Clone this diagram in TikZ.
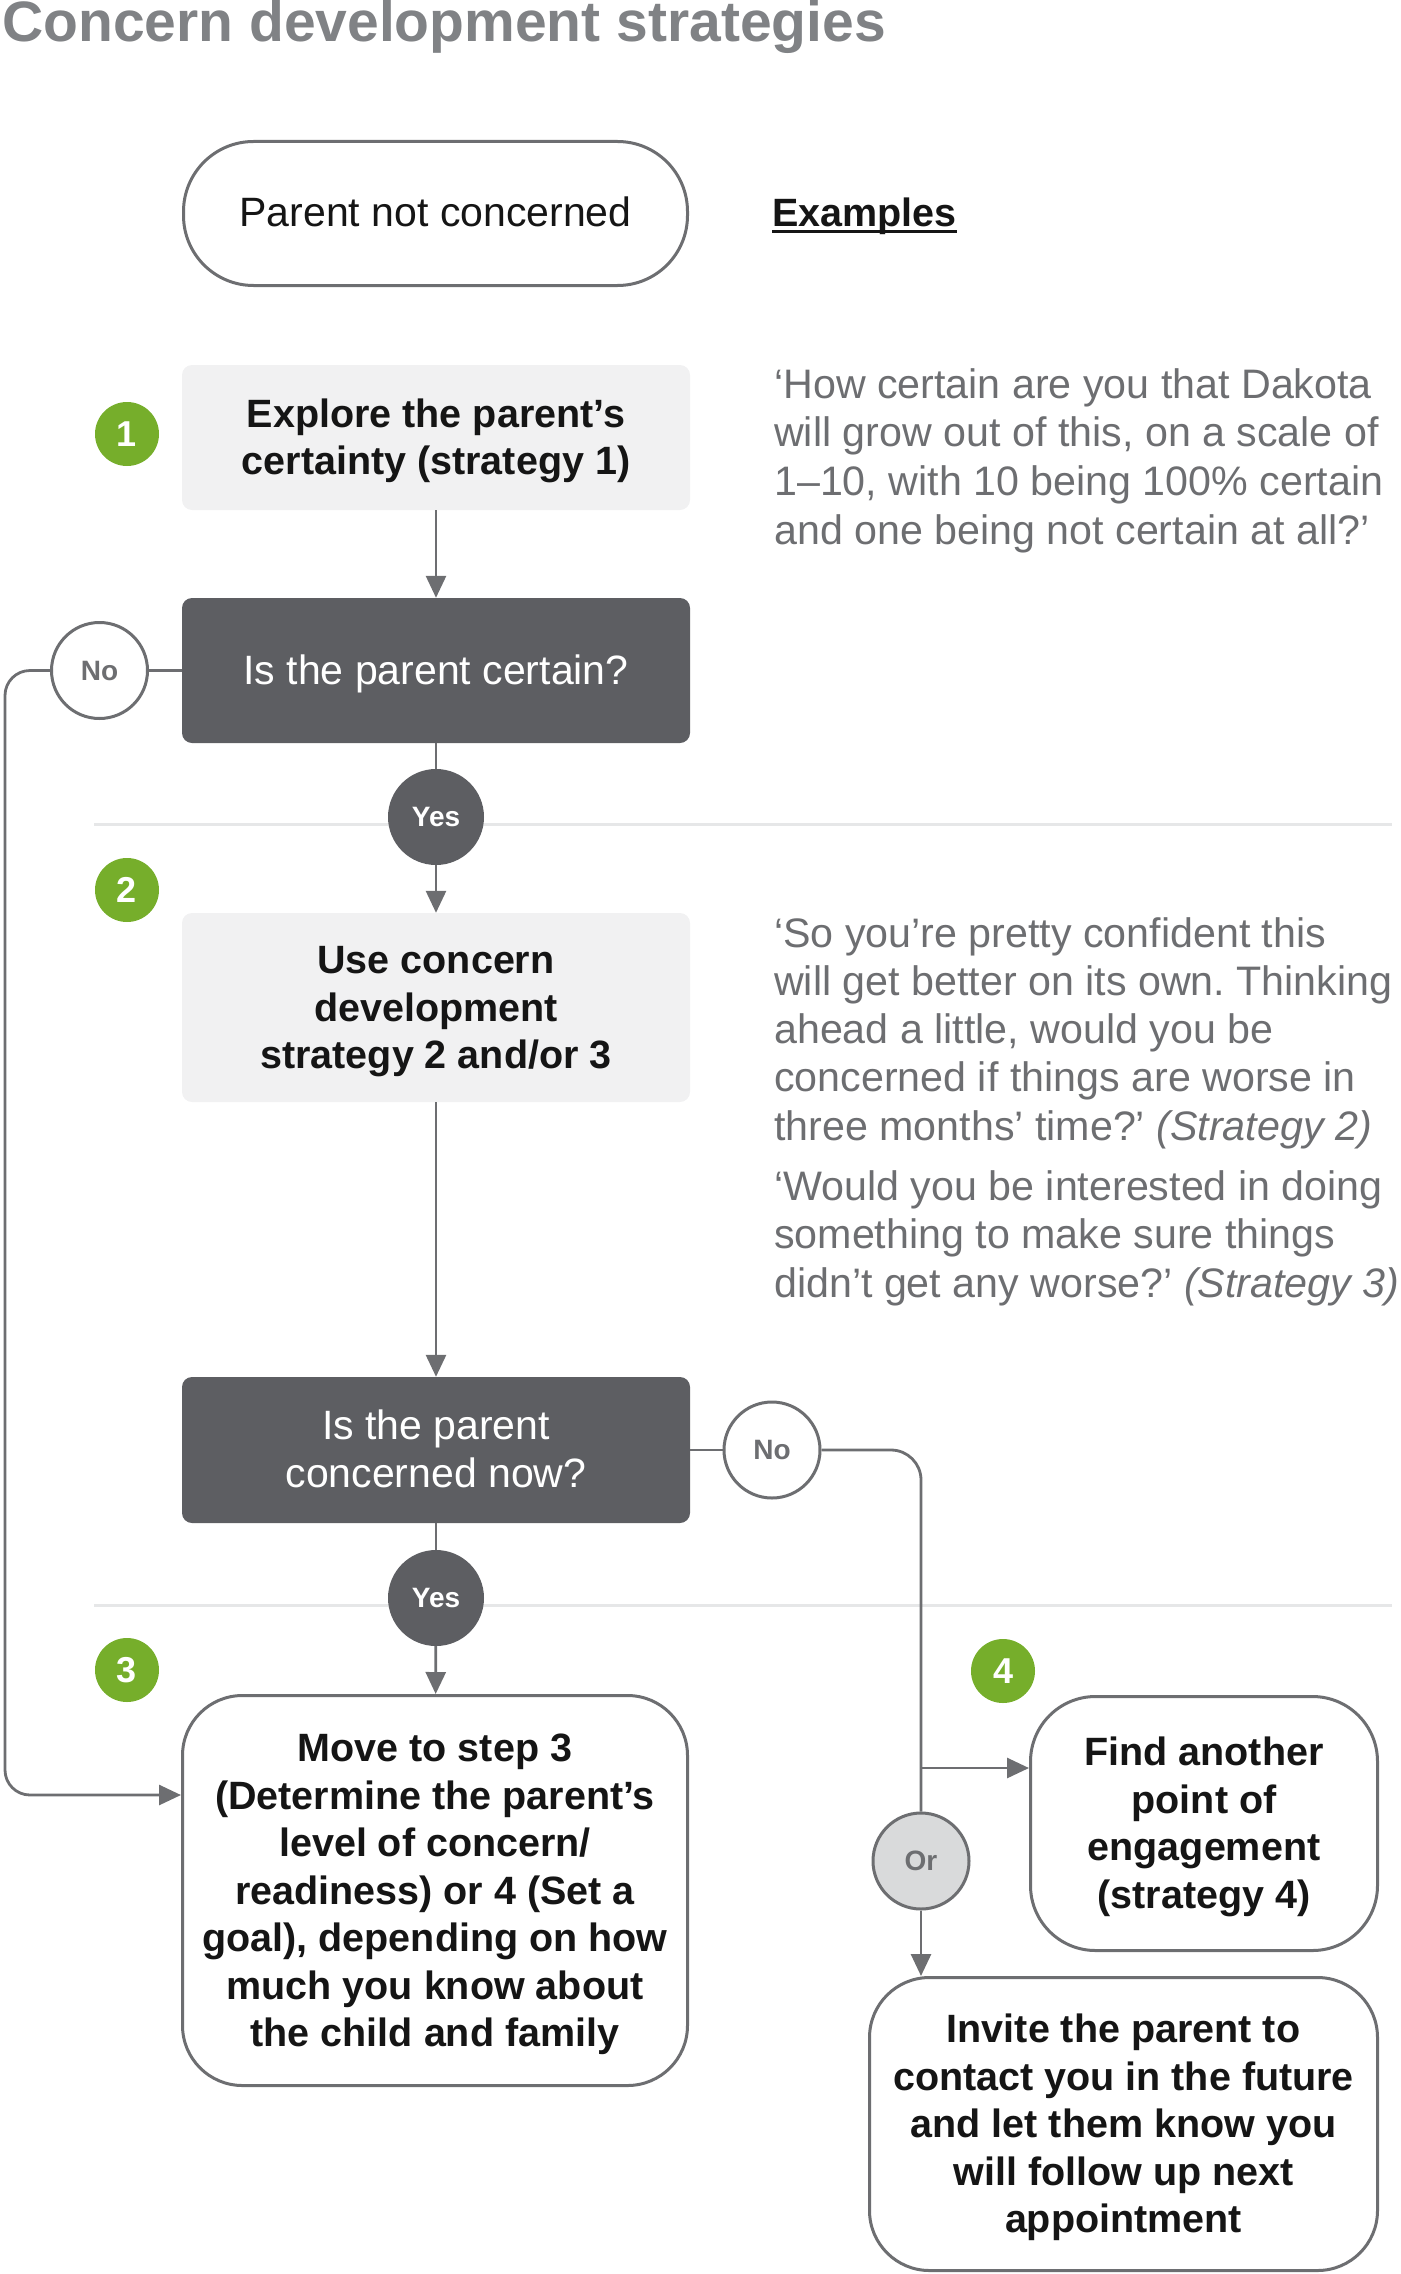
\documentclass[tikz,border=0pt]{standalone}
\usepackage{fontspec}
\setmainfont{Liberation Sans}
\usetikzlibrary{arrows.meta}
\definecolor{lin}{HTML}{6D6E71}
\definecolor{darkfill}{HTML}{5D5E62}
\definecolor{lightfill}{HTML}{F1F1F2}
\definecolor{sepcol}{HTML}{E6E7E8}
\definecolor{grn}{HTML}{76AE2B}
\definecolor{orfill}{HTML}{D9DADB}
\definecolor{titlegrey}{HTML}{808285}
\definecolor{ink}{HTML}{151515}
\newcommand{\myreg}{\fontsize{41}{48.5}\selectfont}
\newcommand{\myexf}{\fontsize{41.2}{48.5}\selectfont}
\newcommand{\mybold}{\fontsize{39.5}{47.5}\selectfont\bfseries}
\newcommand{\mytst}{\rule{0pt}{38pt}}
\newcommand{\mybst}{\rule[-11pt]{0pt}{11pt}}
\frenchspacing
\begin{document}
\begin{tikzpicture}[x=1pt,y=-1pt,
  conn/.style={draw=lin, line width=2.8pt},
  arr/.style={conn, -{Triangle[length=22pt,width=20pt]}},
  sepline/.style={draw=sepcol, line width=3pt},
  lightbox/.style={fill=lightfill, rounded corners=10pt, align=center, font=\mybold, text=ink, inner sep=0pt},
  darkbox/.style={fill=darkfill, rounded corners=10pt, align=center, font=\myreg, text=white, inner sep=0pt},
  whitebox/.style={draw=lin, line width=3pt, fill=white, rounded corners=60pt, align=center, font=\mybold, text=ink, inner sep=0pt},
  num/.style={circle, fill=grn, minimum size=64pt, inner sep=0pt, text=white, font=\fontsize{36}{36}\selectfont\bfseries},
  yesc/.style={circle, fill=darkfill, minimum size=96pt, inner sep=0pt, text=white, font=\fontsize{28}{28}\selectfont\bfseries},
  noc/.style={circle, draw=lin, line width=3pt, fill=white, minimum size=96pt, inner sep=0pt, text=lin, font=\fontsize{28}{28}\selectfont\bfseries},
  ex/.style={anchor=base west, inner sep=0pt, text=lin, font=\myexf},
]
\useasboundingbox (0,0) rectangle (1400,2274);

% separators
\coordinate (s1a) at (94,824); \coordinate (s1b) at (1392,824);
\coordinate (s2a) at (94,1605); \coordinate (s2b) at (1392,1605);
\draw[sepline] (s1a) -- (s1b);
\draw[sepline] (s2a) -- (s2b);

% title and heading
\node[anchor=base west, inner sep=0pt, text=titlegrey, font=\fontsize{57}{60}\selectfont\bfseries] (title) at (2,42) {Concern development strategies};
\node[anchor=base west, inner sep=0pt, text=ink, font=\mybold] (exhead) at (772,227) {Examples};
\draw[ink, line width=2.5pt] ([yshift=-4.5pt]exhead.base west) -- ([yshift=-4.5pt]exhead.base east);

% nodes
\node[whitebox, rounded corners=70pt, font=\myreg, minimum width=504pt, minimum height=144pt] (start) at (435.5,213.5) {\mytst Parent not concerned\mybst};
\node[lightbox, minimum width=508pt, minimum height=145pt] (explore) at (436,437.5) {\mytst Explore the parent’s\\certainty (strategy 1)\mybst};
\node[darkbox, minimum width=508pt, minimum height=145pt] (dec1) at (436,670.5) {\mytst Is the parent certain?\mybst};
\node[noc] (no1) at (99.5,670.5) {No};
\node[yesc] (yes1) at (436,817) {Yes};
\node[lightbox, minimum width=508pt, minimum height=189pt] (use) at (436,1007.5) {\mytst Use concern\\development\\strategy 2 and/or 3\mybst};
\node[darkbox, minimum width=508pt, minimum height=146pt] (dec2) at (436,1450) {\mytst Is the parent\\concerned now?\mybst};
\node[noc] (no2) at (772,1450) {No};
\node[yesc] (yes2) at (436,1598) {Yes};
\node[whitebox, minimum width=505pt, minimum height=390pt] (move) at (435,1890.5) {\mytst Move to step 3\\(Determine the parent’s\\level of concern/\\readiness) or 4 (Set a\\goal), depending on how\\much you know about\\the child and family\mybst};
\node[whitebox, rounded corners=65pt, minimum width=347pt, minimum height=254pt] (find) at (1204,1823.5) {\mytst Find another\\point of\\engagement\\(strategy 4)\mybst};
\node[whitebox, minimum width=508pt, minimum height=293pt] (invite) at (1123.5,2124) {\mytst Invite the parent to\\contact you in the future\\and let them know you\\will follow up next\\appointment\mybst};
\node[noc, fill=orfill] (orc) at (921,1861) {Or};

\node[num] (n1) at (127,434) {1};
\node[num] (n2) at (127,890) {2};
\node[num] (n3) at (127,1670) {3};
\node[num] (n4) at (1003,1671) {4};

% connectors
\draw[arr] (explore) -- (dec1);
\draw[conn] (dec1) -- (yes1);
\draw[arr] (yes1) -- (use);
\draw[arr] (use) -- (dec2);
\draw[conn] (dec2) -- (yes2);
\draw[arr] (yes2) -- (move);
\draw[conn] (dec1) -- (no1);
\coordinate (l1) at (5,670.5);
\coordinate (l2) at (5,1795);
\draw[arr, rounded corners=25pt] (no1.west) -- (l1) -- (l2) -- (l2 -| move.west);
\draw[conn] (dec2) -- (no2);
\coordinate (r1) at (921,1450);
\draw[conn, rounded corners=30pt] (no2.east) -- (r1) -- (orc.north);
\coordinate (br) at (921,1768);
\draw[arr] (br) -- (br -| find.west);
\draw[arr] (orc.south) -- (orc.south |- invite.north);

% examples
\node[ex] (e1a) at (774,398) {‘How certain are you that Dakota};
\node[ex] (e1b) at (774,446.7) {will grow out of this, on a scale of};
\node[ex] (e1c) at (774,495.4) {1–10, with 10 being 100\% certain};
\node[ex] (e1d) at (774,544.1) {and one being not certain at all?’};

\node[ex] (e2a) at (774,947) {‘So you’re pretty confident this};
\node[ex] (e2b) at (774,995.3) {will get better on its own. Thinking};
\node[ex] (e2c) at (774,1043.6) {ahead a little, would you be};
\node[ex] (e2d) at (774,1091.9) {concerned if things are worse in};
\node[ex] (e2e) at (774,1140.2) {three months’ time?’ \textit{(Strategy 2)}};

\node[ex] (e3a) at (774,1200) {‘Would you be interested in doing};
\node[ex] (e3b) at (774,1248.5) {something to make sure things};
\node[ex] (e3c) at (774,1297) {didn’t get any worse?’ \textit{(Strategy 3)}};
\end{tikzpicture}
\end{document}
